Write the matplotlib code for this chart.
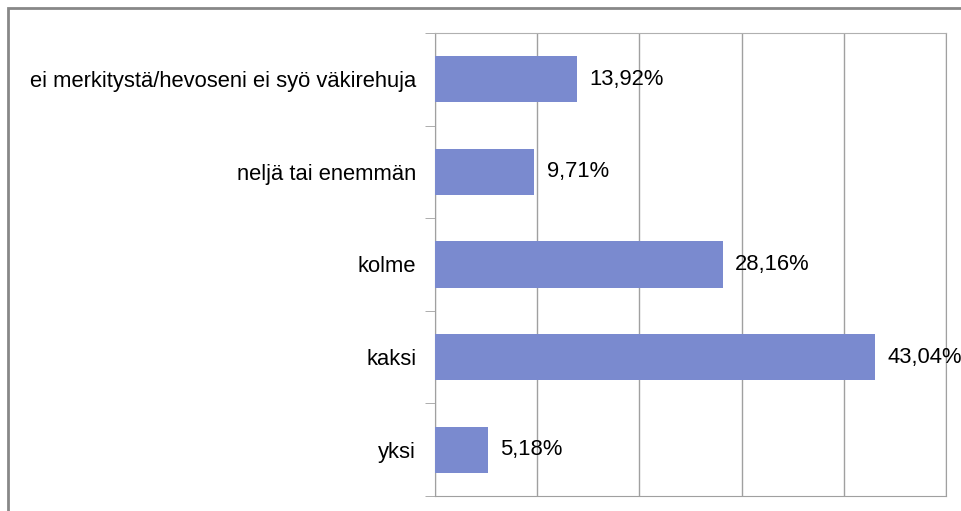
import matplotlib.pyplot as plt
from matplotlib.patches import Rectangle

plt.rcParams['font.family'] = ['Liberation Sans', 'DejaVu Sans']

# data, bottom to top
categories = ['yksi', 'kaksi', 'kolme', 'neljä tai enemmän',
              'ei merkitystä/hevoseni ei syö väkirehuja']
values = [5.18, 43.04, 28.16, 9.71, 13.92]
labels = ['5,18%', '43,04%', '28,16%', '9,71%', '13,92%']

fig = plt.figure(figsize=(9.61, 5.11), dpi=100)
ax = fig.add_axes([435 / 961, 1 - 496 / 511, 511 / 961, 463 / 511])

# outer chart frame (cut off on the right and bottom)
fig.patches.append(Rectangle((8 / 961, -0.1), 1.1, 1 - 8 / 511 + 0.1,
                             transform=fig.transFigure, fill=False,
                             edgecolor='#888888', linewidth=2))

y = range(len(categories))
ax.barh(y, values, height=0.5, color='#7A8ACF', zorder=3)
for yi, v, lab in zip(y, values, labels):
    ax.text(v + 1.2, yi, lab, va='center', ha='left', fontsize=15.8,
            zorder=4, clip_on=False)

ax.set_xlim(0, 50)
ax.set_ylim(-0.5, len(categories) - 0.5)
ax.set_xticks([0, 10, 20, 30, 40, 50])
ax.set_xticklabels([])
ax.tick_params(axis='x', length=0)
ax.grid(axis='x', color='#a0a0a0', linewidth=1, zorder=0)

ax.set_yticks(list(y))
ax.set_yticklabels(categories, fontsize=15.8)
ax.tick_params(axis='y', which='major', length=0, pad=13.5)
ax.set_yticks([i - 0.5 for i in range(len(categories) + 1)], minor=True)
ax.tick_params(axis='y', which='minor', length=7, color='#a0a0a0')

for side in ['left', 'bottom', 'top', 'right']:
    ax.spines[side].set_color('#a0a0a0')
ax.spines['top'].set_color('#b0b0b0')

fig.savefig('out.png', dpi=100)
